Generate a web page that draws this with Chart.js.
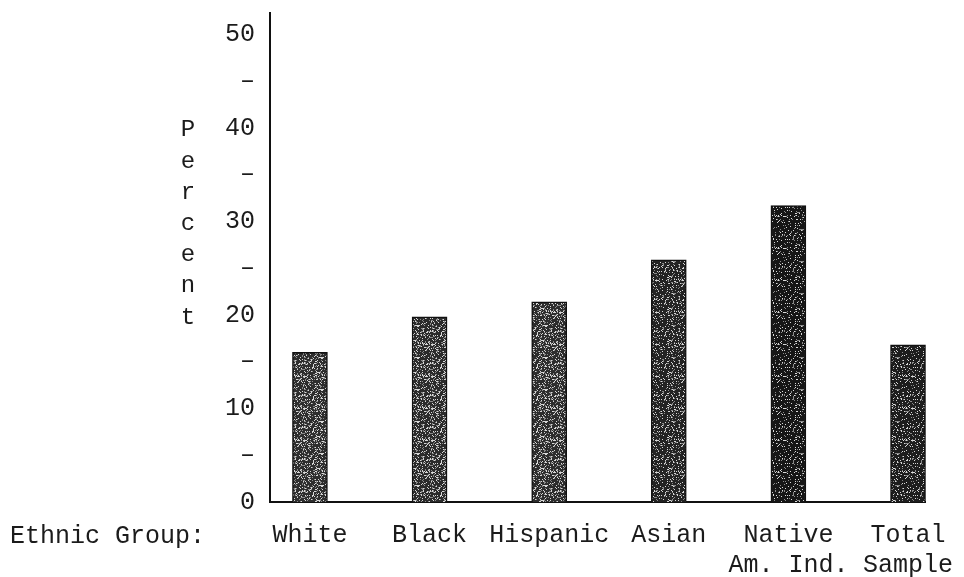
<!DOCTYPE html>
<html>
<head>
<meta charset="utf-8">
<script src="https://cdn.jsdelivr.net/npm/chart.js@4"></script>
<style>
  html, body { margin: 0; padding: 0; background: #fff; overflow: hidden; }
  #wrap { width: 964px; height: 577px; }
</style>
</head>
<body>
<div id="wrap"><canvas id="barChart" width="964" height="577"></canvas></div>
<script>
const categories = [['White'], ['Black'], ['Hispanic'], ['Asian'], ['Native', 'Am. Ind.'], ['Total', 'Sample']];
const percents = [16.0, 19.8, 21.4, 25.9, 31.7, 16.8];
const barShades = ['#2e2e2e', '#2b2b2b', '#2d2d2d', '#232323', '#161616', '#1d1d1d'];
const speckle = [0.30, 0.30, 0.30, 0.22, 0.14, 0.18];
const yTicks = [0, 5, 10, 15, 20, 25, 30, 35, 40, 45, 50];
const yMax = 52.3;
const axisTitle = 'Ethnic Group:';
const yTitle = 'Percent';

const FONT = 'Liberation Mono, Courier New, monospace';
const INK = '#1b1b1b';

// printed-stipple look for the bars (fixed seed, same every run)
function stipple(base, density) {
  const c = document.createElement('canvas');
  c.width = 32; c.height = 32;
  const g = c.getContext('2d');
  g.fillStyle = base;
  g.fillRect(0, 0, 32, 32);
  let seed = 12345;
  const rnd = () => { seed = (seed * 1103515245 + 12345) % 2147483648; return seed / 2147483648; };
  for (let y = 0; y < 32; y++) {
    for (let x = 0; x < 32; x++) {
      const r = rnd();
      if (r < density) {
        g.fillStyle = r < density * 0.5 ? '#d8d8d8' : '#8a8a8a';
        g.fillRect(x, y, 1, 1);
      }
    }
  }
  return g.createPattern(c, 'repeat');
}

// side labels drawn by hand: "Ethnic Group:" and the stacked "Percent"
const sideLabels = {
  id: 'sideLabels',
  afterDraw(chart) {
    const ctx = chart.ctx;
    const x = chart.scales.x;
    ctx.save();
    ctx.fillStyle = INK;
    ctx.font = '25px ' + FONT;
    ctx.textBaseline = 'middle';
    ctx.textAlign = 'left';
    ctx.fillText(axisTitle, 10, x.top + 34);
    ctx.font = '24px ' + FONT;
    ctx.textAlign = 'center';
    yTitle.split('').forEach((ch, i) => {
      ctx.fillText(ch, 188, 130 + i * 31.2);
    });
    ctx.restore();
  }
};

const data = {
  datasets: [{
    label: 'Percent',
    data: percents.map((v, i) => ({ x: i, y: v })),
    backgroundColor: barShades.map((c, i) => stipple(c, speckle[i])),
    borderColor: '#111',
    borderWidth: 1.5,
    barThickness: 35,
    clip: false
  }]
};

const config = {
  type: 'bar',
  data: data,
  options: {
    responsive: false,
    animation: false,
    layout: { padding: { left: 210, right: 39, top: 13, bottom: 0 } },
    plugins: {
      legend: { display: false },
      tooltip: { enabled: false }
    },
    scales: {
      x: {
        type: 'linear',
        offset: false,
        min: -0.334,
        max: 5.142,
        grid: { display: false, drawTicks: false },
        border: { display: true, color: '#111', width: 2 },
        afterBuildTicks: s => { s.ticks = categories.map((c, i) => ({ value: i })); },
        afterFit: s => { s.height = 75; s.paddingLeft = 0; s.paddingRight = 0; },
        ticks: {
          autoSkip: false,
          maxRotation: 0,
          padding: 18,
          color: INK,
          font: { family: FONT, size: 25 },
          callback: v => categories[v]
        }
      },
      y: {
        min: 0,
        max: yMax,
        grid: { display: false, drawTicks: false },
        border: { display: true, color: '#111', width: 2 },
        afterBuildTicks: s => { s.ticks = yTicks.map(v => ({ value: v })); },
        afterFit: s => { s.width = 60; s.paddingTop = 0; s.paddingBottom = 0; },
        ticks: {
          padding: 15,
          color: INK,
          font: { family: FONT, size: 25 },
          callback: v => v % 10 === 0 ? String(v) : '–'
        }
      }
    }
  },
  plugins: [sideLabels]
};

const myChart = new Chart(document.getElementById('barChart'), config);
</script>
</body>
</html>
